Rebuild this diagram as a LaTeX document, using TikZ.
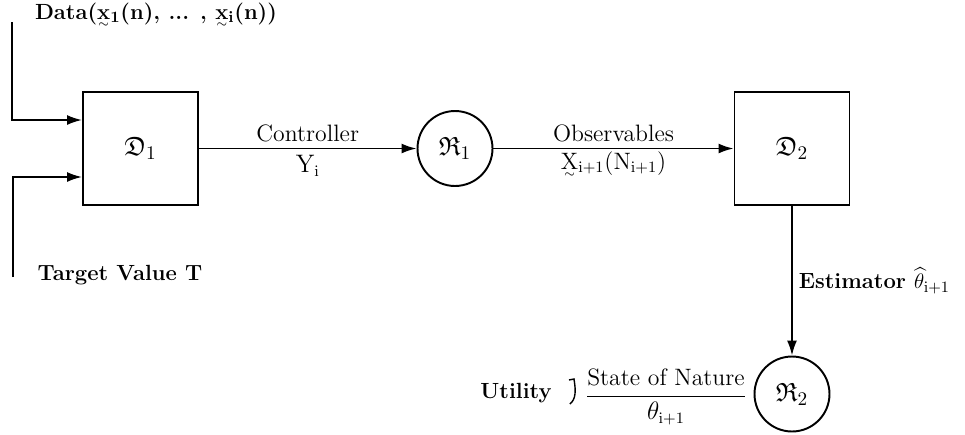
\documentclass[tikz,border=0pt]{standalone}
\usepackage{amsmath}
\usepackage{amssymb}
\usetikzlibrary{arrows.meta,positioning}

\newcommand{\tildeunder}[1]{\mbox{\ooalign{#1\cr\hidewidth\raisebox{-0.85ex}{\scriptsize$\sim$}\hidewidth\cr}}}

\begin{document}
\begin{tikzpicture}[
  x=0.02cm,
  y=-0.02cm,
  flow/.style={draw=black, line width=1.1pt, -{Latex[length=3mm,width=2mm]}},
  plainline/.style={draw=black, line width=1.1pt},
  stagebox/.style={draw=black, line width=1.1pt, minimum width=2.3cm, minimum height=2.26cm},
  chancecircle/.style={draw=black, circle, line width=1.1pt, minimum size=1.5cm, inner sep=0pt},
  boldlabel/.style={font=\fontsize{12.5}{15}\selectfont\bfseries},
  edgelabel/.style={font=\fontsize{13.5}{16}\selectfont},
  symbollabel/.style={font=\fontsize{15}{18}\selectfont}
]
  \useasboundingbox (0,0) rectangle (965,434);

  \node[stagebox, symbollabel] (d1) at (140.5,148.5) {$\mathfrak{D}_{\mathrm{1}}$};
  \node[stagebox, symbollabel] (d2) at (792,148.5) {$\mathfrak{D}_{\mathrm{2}}$};
  \node[chancecircle, symbollabel] (r1) at (455,148.5) {$\mathfrak{R}_{\mathrm{1}}$};
  \node[chancecircle, symbollabel] (r2) at (792,394) {$\mathfrak{R}_{\mathrm{2}}$};

  \coordinate (datastart) at (12,22);
  \coordinate (targetend) at (13,277);

  \node[boldlabel] (datalabel) at (156,15)
    {Data(\tildeunder{x}$_{\mathbf{1}}$(n), ... , \tildeunder{x}$_{\mathbf{i}}$(n))};
  \node[boldlabel] (targetlabel) at (120,275) {Target Value T};
  \node[edgelabel] (nature) at (666,397)
    {$\dfrac{\text{State of Nature}}{\theta_{\mathrm{i+1}}}$};
  \node[boldlabel] (utility) at (516,393) {Utility};

  \draw[flow] (datastart) |- ([yshift=0.57cm]d1.west);
  \draw[flow] (targetend) |- ([yshift=-0.57cm]d1.west);
  \draw[flow] (d1) -- node[above, edgelabel] {Controller}
    node[below, edgelabel] {$\mathrm{Y}_{\mathrm{i}}$} (r1);
  \draw[flow] (r1) -- node[above, edgelabel] {Observables}
    node[below, edgelabel, inner sep=1pt] {\tildeunder{X}$_{\mathrm{i+1}}$(N$_{\mathrm{i+1}}$)} (d2);
  \draw[flow] (d2) -- node[right, boldlabel] {Estimator $\widehat{\theta}_{\mathrm{i+1}}$} (r2);

  \draw[plainline, line width=0.8pt] ([shift={(-10,-17)}]nature.west) -- ([shift={(-5,-18)}]nature.west)
    .. controls ([shift={(-3,-6)}]nature.west) and ([shift={(-3,2)}]nature.west) .. ([shift={(-9,7)}]nature.west);
\end{tikzpicture}
\end{document}
